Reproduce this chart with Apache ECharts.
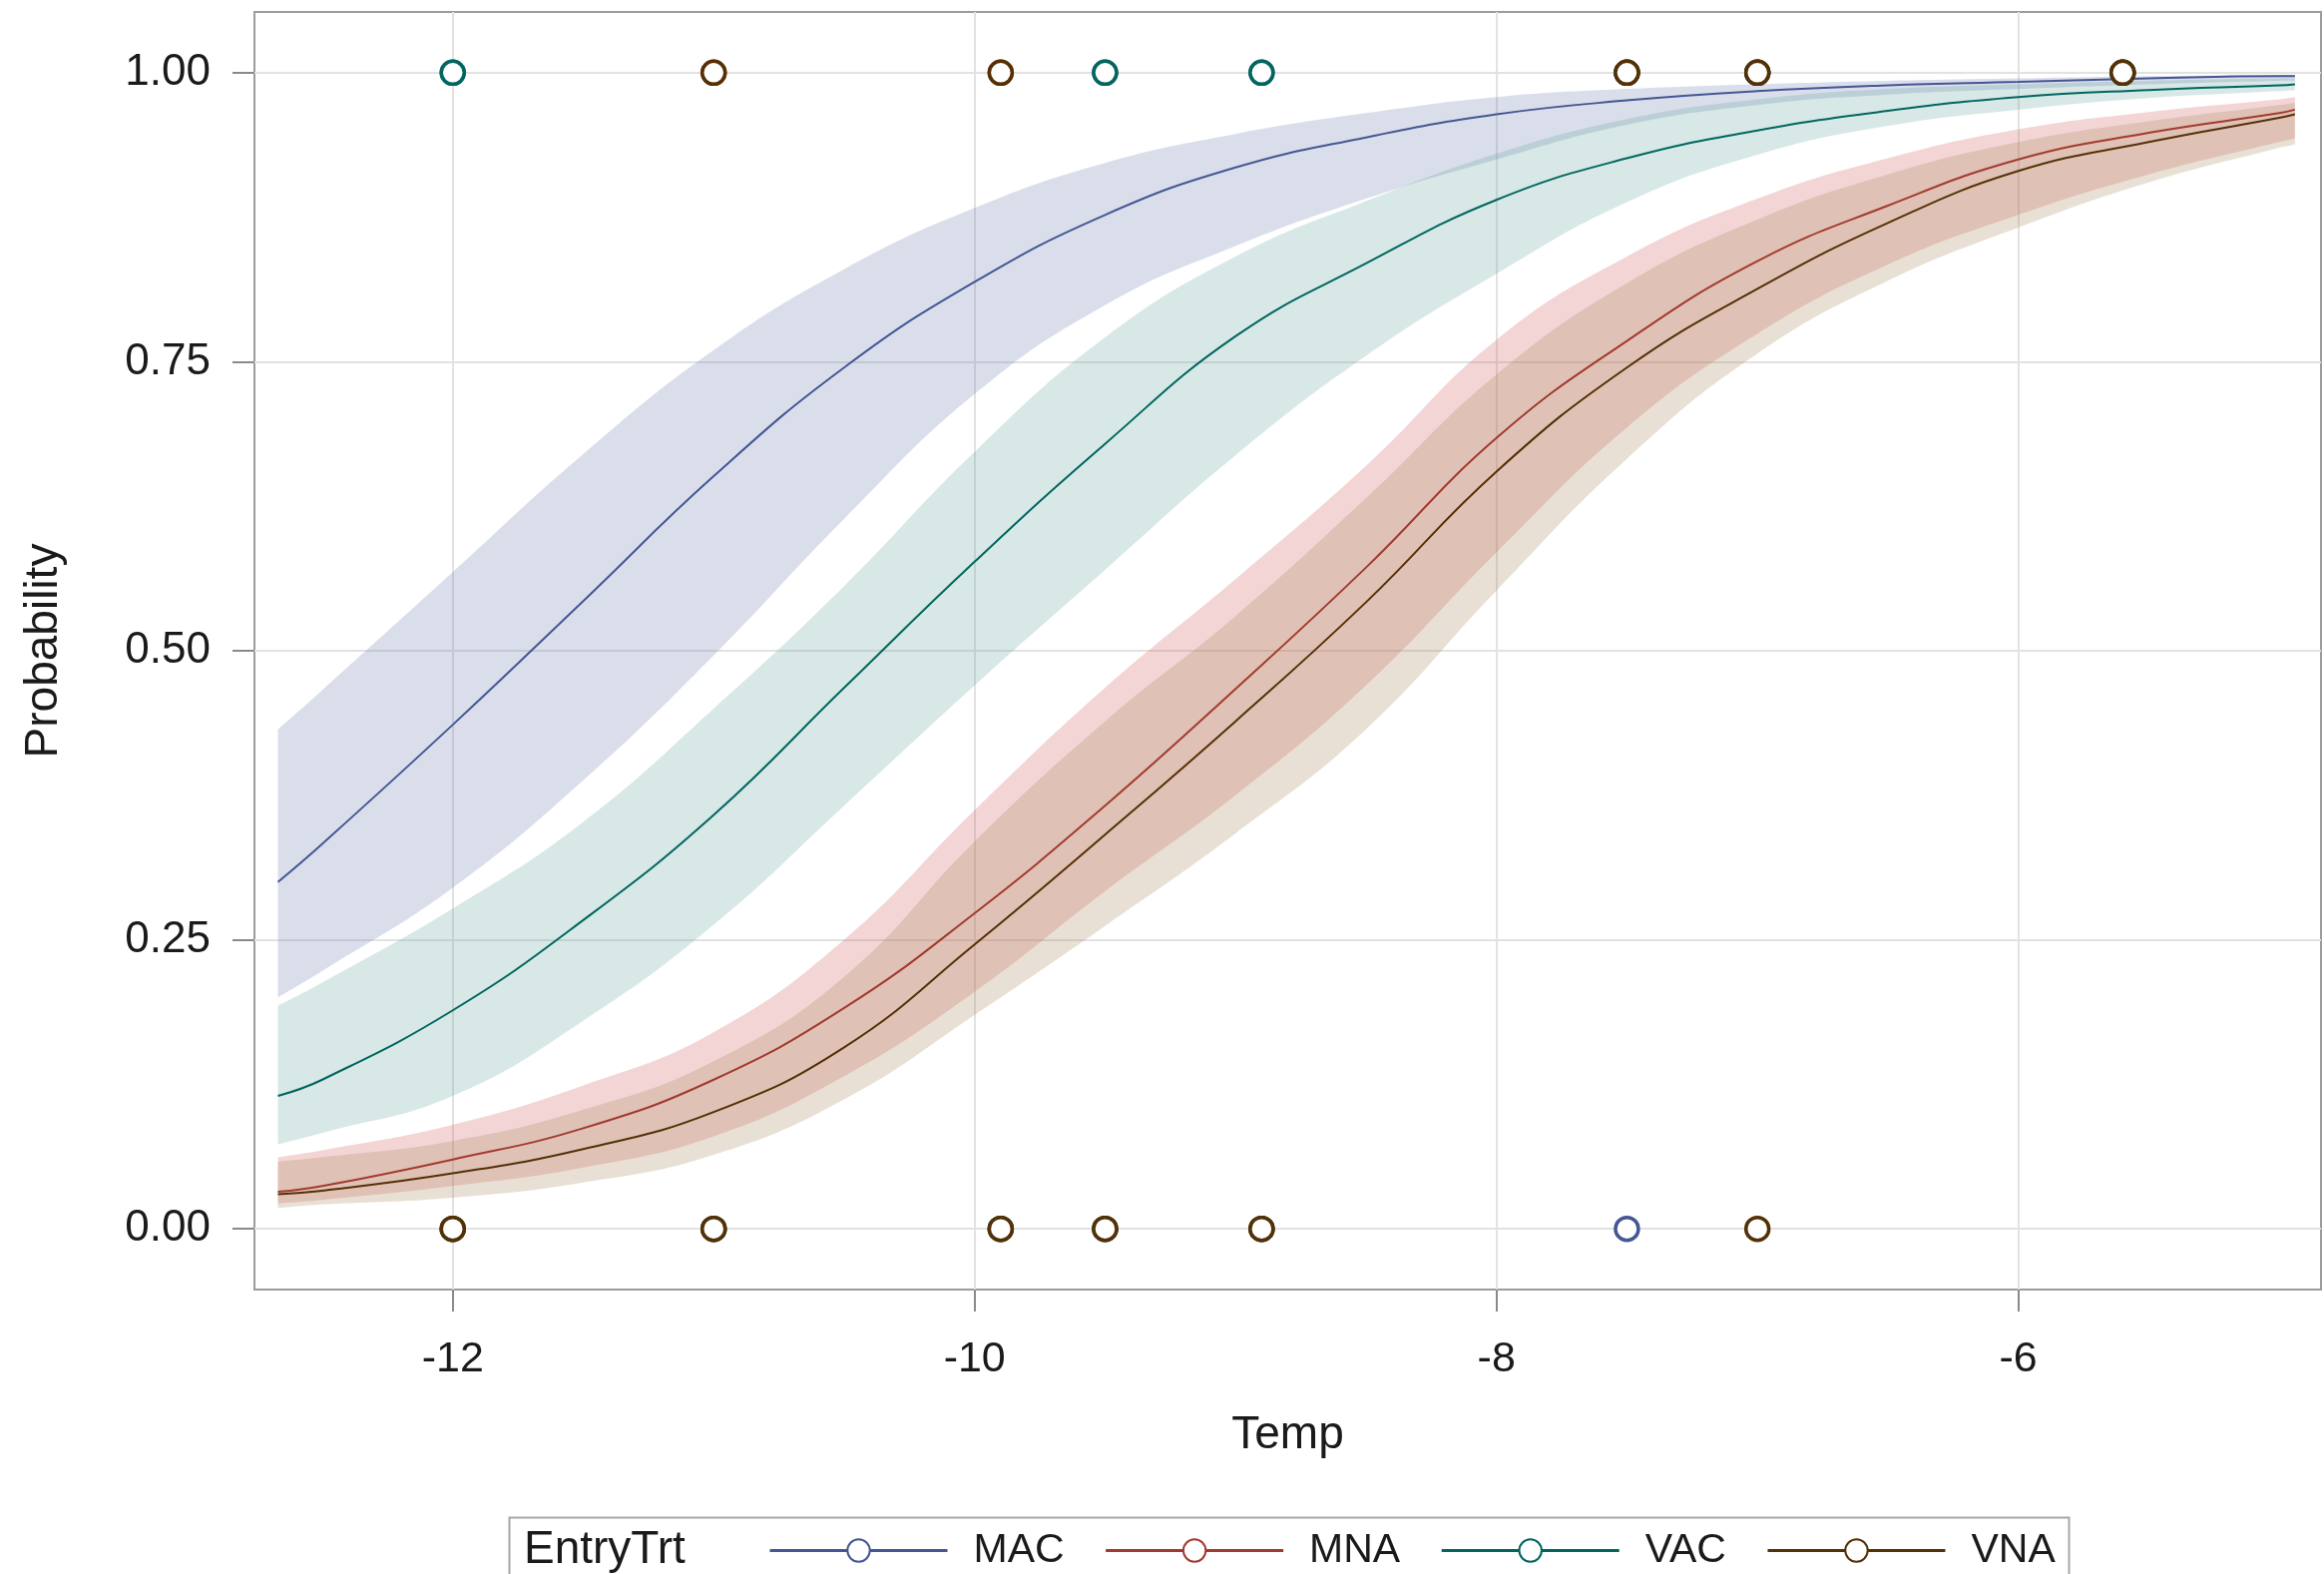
<!DOCTYPE html>
<html>
<head>
<meta charset="utf-8">
<script src="https://cdn.jsdelivr.net/npm/echarts@6/dist/echarts.min.js"></script>
<style>
html, body { margin: 0; padding: 0; background: #fff; }
#main { width: 2329px; height: 1577px; }
</style>
</head>
<body>
<div id="main"></div>
<script>
// temperature grid where the fitted curves were read
var temps = [-12.67, -12.5, -12, -11.5, -11, -10.5, -10, -9.5, -9, -8.5, -8, -7.5, -7, -6.5, -6, -5.5, -5, -4.94];

var macProb  = [0.300, 0.333, 0.436, 0.543, 0.651, 0.745, 0.819, 0.877, 0.918, 0.944, 0.964, 0.976, 0.984, 0.989, 0.992, 0.995, 0.997, 0.997];
var macUpper = [0.432, 0.466, 0.568, 0.670, 0.760, 0.830, 0.883, 0.922, 0.947, 0.965, 0.979, 0.986, 0.990, 0.993, 0.995, 0.997, 0.998, 0.998];
var macLower = [0.200, 0.223, 0.295, 0.388, 0.496, 0.614, 0.722, 0.799, 0.850, 0.891, 0.925, 0.955, 0.972, 0.981, 0.986, 0.990, 0.993, 0.993];

var mnaProb  = [0.032, 0.037, 0.060, 0.087, 0.129, 0.191, 0.273, 0.366, 0.467, 0.572, 0.684, 0.768, 0.837, 0.885, 0.925, 0.948, 0.965, 0.968];
var mnaUpper = [0.062, 0.068, 0.090, 0.124, 0.170, 0.250, 0.362, 0.468, 0.562, 0.660, 0.769, 0.841, 0.891, 0.926, 0.951, 0.966, 0.977, 0.979];
var mnaLower = [0.022, 0.025, 0.037, 0.053, 0.080, 0.132, 0.205, 0.292, 0.375, 0.470, 0.585, 0.693, 0.774, 0.834, 0.877, 0.912, 0.940, 0.943];

var vacProb  = [0.115, 0.129, 0.189, 0.267, 0.358, 0.468, 0.577, 0.679, 0.772, 0.835, 0.890, 0.926, 0.950, 0.967, 0.979, 0.985, 0.989, 0.990];
var vacUpper = [0.193, 0.213, 0.277, 0.352, 0.450, 0.556, 0.672, 0.771, 0.841, 0.889, 0.930, 0.960, 0.977, 0.986, 0.990, 0.993, 0.995, 0.995];
var vacLower = [0.073, 0.083, 0.115, 0.180, 0.263, 0.366, 0.470, 0.570, 0.669, 0.755, 0.826, 0.888, 0.929, 0.954, 0.968, 0.978, 0.984, 0.985];

var vnaProb  = [0.030, 0.033, 0.048, 0.069, 0.101, 0.157, 0.246, 0.341, 0.439, 0.542, 0.655, 0.745, 0.813, 0.870, 0.915, 0.940, 0.961, 0.964];
var vnaUpper = [0.058, 0.062, 0.076, 0.103, 0.145, 0.218, 0.335, 0.439, 0.530, 0.632, 0.739, 0.818, 0.873, 0.912, 0.940, 0.958, 0.972, 0.974];
var vnaLower = [0.018, 0.021, 0.027, 0.040, 0.064, 0.112, 0.185, 0.262, 0.342, 0.432, 0.552, 0.666, 0.757, 0.820, 0.866, 0.905, 0.935, 0.938];

// observed outcomes (temp values with response 1 / response 0)
var macOne  = [-12, -9.5, -8.9, -7.5, -7, -5.6];
var macZero = [-7.5];
var mnaOne  = [-11, -9.9, -7.5, -7, -5.6];
var mnaZero = [-12, -11, -9.9, -9.5, -8.9];
var vacOne  = [-12, -9.5, -8.9, -7.5, -7, -5.6];
var vacZero = [-12, -11, -9.9, -9.5, -8.9];
var vnaOne  = [-11, -9.9, -7.5, -7, -5.6];
var vnaZero = [-12, -11, -9.9, -9.5, -8.9, -7];

var xTicks = [-12, -10, -8, -6];
var yTicks = [0, 0.25, 0.5, 0.75, 1];
var groupNames = ['MAC', 'MNA', 'VAC', 'VNA'];

var font = '"Liberation Sans", Arial, sans-serif';
var textColor = '#1a1a1a';

var groups = [
    { name: 'MAC', prob: macProb, upper: macUpper, lower: macLower, one: macOne, zero: macZero, line: '#445694', fill: '#6f7eb3' },
    { name: 'MNA', prob: mnaProb, upper: mnaUpper, lower: mnaLower, one: mnaOne, zero: mnaZero, line: '#a23a2e', fill: '#d05b5b' },
    { name: 'VAC', prob: vacProb, upper: vacUpper, lower: vacLower, one: vacOne, zero: vacZero, line: '#01665e', fill: '#66a5a0' },
    { name: 'VNA', prob: vnaProb, upper: vnaUpper, lower: vnaLower, one: vnaOne, zero: vnaZero, line: '#543005', fill: '#a9865b' }
];

var bandSeries = function(g) {
    return {
        name: g.name + ' CL',
        type: 'custom',
        silent: true,
        z: 1,
        data: temps.map(function(t, i) { return [t, g.lower[i], g.upper[i]]; }),
        encode: { x: 0, y: [1, 2] },
        renderItem: function(params, api) {
            if (params.dataIndex !== 0) return;
            var top = [], bot = [];
            for (var i = 0; i < temps.length; i++) {
                top.push(api.coord([temps[i], g.upper[i]]));
                bot.push(api.coord([temps[i], g.lower[i]]));
            }
            bot.reverse();
            // every corner doubled so the smoothing keeps the band ends square
            var pts = [top[0]].concat(top, [top[top.length - 1]], [bot[0]], bot, [bot[bot.length - 1]]);
            return {
                type: 'polygon',
                shape: { points: pts, smooth: 0.45 },
                style: { fill: g.fill, opacity: 0.26 }
            };
        }
    };
};

var series = [];
groups.forEach(function(g) { series.push(bandSeries(g)); });
groups.forEach(function(g) {
    series.push({
        name: g.name,
        type: 'line',
        z: 3,
        data: temps.map(function(t, i) { return [t, g.prob[i]]; }),
        smooth: 0.45,
        symbol: 'emptyCircle',
        showSymbol: false,
        lineStyle: { color: g.line, width: 2 },
        itemStyle: { color: g.line }
    });
});
groups.forEach(function(g) {
    series.push({
        name: g.name + ' obs',
        type: 'scatter',
        z: 4,
        clip: false,
        symbol: 'circle',
        symbolSize: 23,
        data: g.one.map(function(t) { return [t, 1]; }).concat(g.zero.map(function(t) { return [t, 0]; })),
        itemStyle: { color: '#ffffff', borderColor: g.line, borderWidth: 3.5, opacity: 1 }
    });
});

var option = {
    animation: false,
    backgroundColor: '#ffffff',
    grid: {
        left: 255, right: 3, top: 12, bottom: 285,
        show: true, borderColor: '#9c9c9c', borderWidth: 2,
        outerBoundsMode: 'none'
    },
    xAxis: {
        type: 'value',
        min: -12.76, max: -4.84,
        name: 'Temp',
        nameLocation: 'middle',
        nameGap: 123,
        nameTextStyle: { fontSize: 46, fontFamily: font, color: textColor },
        axisLine: { show: false, onZero: false },
        axisTick: { show: true, length: 22, customValues: xTicks, lineStyle: { color: '#8a8a8a', width: 2 } },
        axisLabel: { customValues: xTicks, margin: 49, fontSize: 43, fontFamily: font, color: textColor },
        splitLine: { show: true, lineStyle: { color: '#e2e2e2', width: 2 } }
    },
    yAxis: {
        type: 'value',
        min: -0.0525, max: 1.0525,
        name: 'Probability',
        nameLocation: 'middle',
        nameGap: 188,
        nameTextStyle: { fontSize: 46, fontFamily: font, color: textColor },
        axisLine: { show: false, onZero: false },
        axisTick: { show: true, length: 22, customValues: yTicks, lineStyle: { color: '#8a8a8a', width: 2 } },
        axisLabel: {
            customValues: yTicks, margin: 44, fontSize: 44, fontFamily: font, color: textColor,
            formatter: function(v) { return v.toFixed(2); }
        },
        splitLine: { show: true, lineStyle: { color: '#e2e2e2', width: 2 } }
    },
    legend: {
        data: groupNames,
        left: 770,
        top: 1533,
        padding: 0,
        itemWidth: 178,
        itemHeight: 28,
        itemGap: 40,
        selectedMode: false,
        lineStyle: { width: 3 },
        textStyle: { fontSize: 41, fontFamily: font, color: textColor, padding: [0, 0, 0, 21] }
    },
    graphic: [
        {
            type: 'rect', left: 508, top: 1518, silent: true,
            shape: { width: 1563, height: 80 },
            style: { fill: 'none', stroke: '#a6a6a6', lineWidth: 2 }
        },
        {
            type: 'text', x: 525, y: 1553, silent: true,
            style: { text: 'EntryTrt', font: '46px "Liberation Sans", Arial, sans-serif', fill: textColor, verticalAlign: 'middle' }
        }
    ],
    series: series
};

var myChart = echarts.init(document.getElementById('main'));
myChart.setOption(option);
</script>
</body>
</html>
